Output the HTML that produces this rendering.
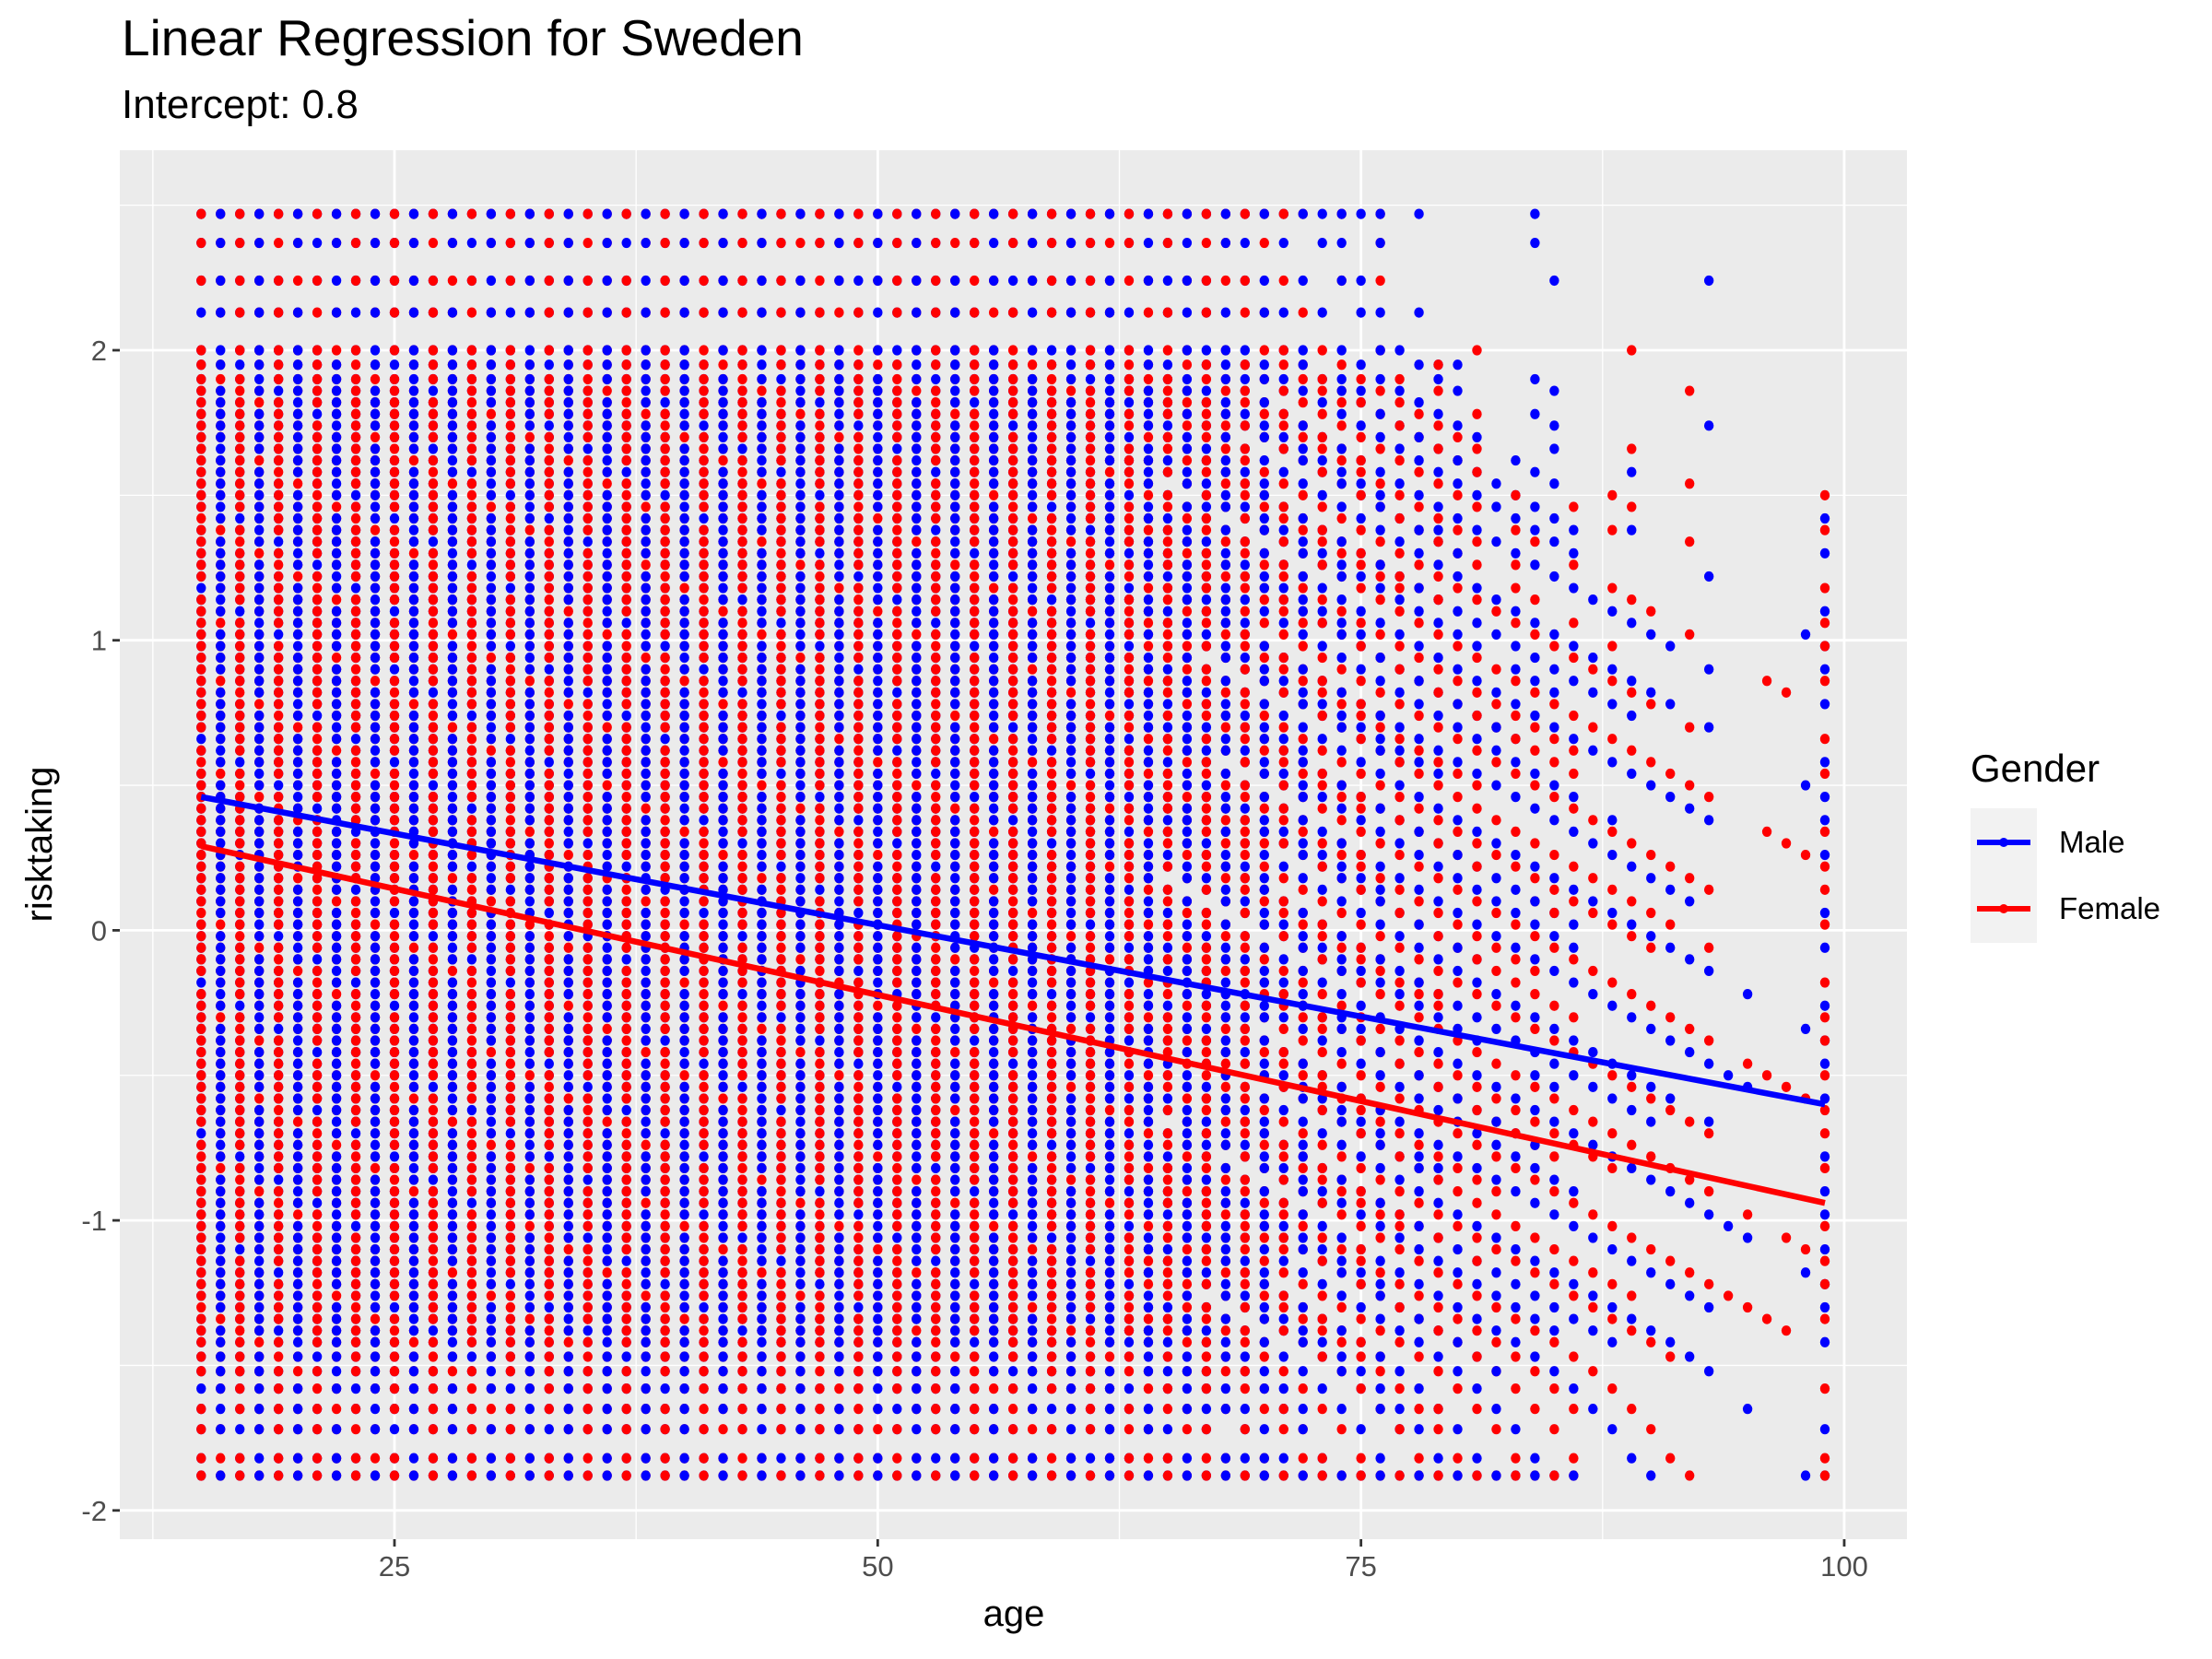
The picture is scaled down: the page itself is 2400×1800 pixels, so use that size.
<!DOCTYPE html>
<html><head><meta charset="utf-8">
<style>
html,body{margin:0;padding:0;background:#fff;}
svg{display:block;font-family:"Liberation Sans",Arial,sans-serif;}
</style></head>
<body>
<svg id="chart" width="2400" height="1800" viewBox="0 0 2400 1800" xmlns="http://www.w3.org/2000/svg">
<text x="132" y="60" font-size="55" fill="#000">Linear Regression for Sweden</text>
<text x="132" y="128" font-size="44" fill="#000">Intercept: 0.8</text>
<rect x="130" y="163" width="1939" height="1507" fill="#ebebeb"/>
<g id="grid"></g>
<g id="points"></g>
<g id="lines"></g>
<g id="axes"></g>
<text x="1100" y="1764" font-size="40" text-anchor="middle" fill="#000">age</text>
<text transform="translate(56,916) rotate(-90)" font-size="40" text-anchor="middle" fill="#000">risktaking</text>
<g>
<text x="2138" y="848" font-size="42" fill="#000">Gender</text>
<rect x="2138" y="877" width="72" height="146" fill="#f2f2f2"/>
<g>
<line x1="2145" y1="914" x2="2203" y2="914" stroke="#0000ff" stroke-width="6"/>
<circle cx="2174" cy="914" r="5" fill="#0000ff"/>
<text x="2234" y="925" font-size="33" fill="#000">Male</text>
</g>
<g>
<line x1="2145" y1="986" x2="2203" y2="986" stroke="#ff0000" stroke-width="6"/>
<circle cx="2174" cy="986" r="5" fill="#ff0000"/>
<text x="2234" y="997" font-size="33" fill="#000">Female</text>
</g>
</g>
</svg>
<script>
const ages = [15,16,17,18,19,20,21,22,23,24,25,26,27,28,29,30,31,32,33,34,35,36,37,38,39,40,41,42,43,44,45,46,47,48,49,50,51,52,53,54,55,56,57,58,59,60,61,62,63,64,65,66,67,68,69,70,71,72,73,74,75,76,77,78,79,80,81,82,83,84,85,86,87,88,89,90,91,92,93,94,95,96,97,98,99];
const maleMax = [2.47,2.47,2.47,2.47,2.47,2.47,2.47,2.47,2.47,2.47,2.47,2.47,2.47,2.47,2.47,2.47,2.47,2.47,2.47,2.47,2.47,2.47,2.47,2.47,2.47,2.47,2.47,2.47,2.47,2.47,2.47,2.47,2.47,2.47,2.47,2.47,2.47,2.47,2.47,2.47,2.47,2.47,2.47,2.47,2.47,2.47,2.47,2.47,2.47,2.47,2.47,2.47,2.47,2.47,2.47,2.47,2.47,2.47,2.47,2.47,2.47,2.47,2.2,2.47,1.95,1.95,1.7,1.6,1.63,2.47,2.3,1.38,1.38,1.3,1.58,1.2,1.2,0.42,2.35,-0.35,0.24,null,null,1.2,1.52];
const femaleMax = [2.47,2.47,2.47,2.47,2.47,2.47,2.47,2.47,2.47,2.47,2.47,2.47,2.47,2.47,2.47,2.47,2.47,2.47,2.47,2.47,2.47,2.47,2.47,2.47,2.47,2.47,2.47,2.47,2.47,2.47,2.47,2.47,2.47,2.47,2.47,2.47,2.47,2.47,2.47,2.47,2.47,2.47,2.47,2.47,2.47,2.47,2.47,2.47,2.47,2.47,2.47,2.47,2.47,2.47,2.47,2.47,2.47,2.47,2.2,2.47,2.05,2.47,1.9,1.85,1.95,1.7,2.35,1.2,1.5,1.4,1.05,1.55,1.0,1.55,2.2,1.1,0.64,2.13,0.77,-0.8,-0.2,1.2,1.05,0.45,1.55];
const density = [0.95,0.9,0.9,0.9,0.9,0.9,0.9,0.9,0.9,0.9,0.9,0.9,0.9,0.9,0.9,0.9,0.9,0.9,0.9,0.9,0.9,0.9,0.9,0.9,0.9,0.9,0.9,0.9,0.9,0.9,0.9,0.9,0.9,0.9,0.9,0.9,0.9,0.9,0.9,0.9,0.9,0.9,0.9,0.9,0.9,0.9,0.9,0.9,0.75,0.75,0.7,0.7,0.7,0.65,0.65,0.6,0.55,0.55,0.5,0.5,0.5,0.45,0.4,0.4,0.4,0.35,0.35,0.3,0.3,0.3,0.3,0.25,0.2,0.2,0.18,0.15,0.15,0.12,0.12,0.08,0.08,0.06,0.06,0.06,0.3];
const yMin = -1.88;
const upperLevels = [2.47,2.37,2.24,2.13,2.0,1.95];
const lowerLevels = [-1.47,-1.52,-1.58,-1.65,-1.72,-1.82,-1.88];
const maleLine = [0.46,-0.60];
const femaleLine = [0.29,-0.94];
const lineAges = [15,99];
const xTicks = [25,50,75,100];
const xMinor = [12.5,37.5,62.5,87.5];
const yTicks = [-2,-1,0,1,2];
const yMinor = [-1.5,-0.5,0.5,1.5,2.5];

const NS = "http://www.w3.org/2000/svg";
const P = {l:130,r:2069,t:163,b:1670};
function xs(v){ return 428 + (v-25)*20.973; }
function ys(v){ return 380 + (2-v)*314.7; }
function mk(tag, attrs, parent){ const e=document.createElementNS(NS,tag); for(const k in attrs) e.setAttribute(k,attrs[k]); parent.appendChild(e); return e; }

const grid=document.getElementById('grid');
xMinor.forEach(v=>{ if(xs(v)>P.l&&xs(v)<P.r){ const e=mk('line',{x1:xs(v),x2:xs(v),y1:P.t,y2:P.b,stroke:'#fff','stroke-width':1.3},grid);

 }});
yMinor.forEach(v=>{ const e=mk('line',{x1:P.l,x2:P.r,y1:ys(v),y2:ys(v),stroke:'#fff','stroke-width':1.3},grid);

 });
xTicks.forEach(v=>{ const e=mk('line',{x1:xs(v),x2:xs(v),y1:P.t,y2:P.b,stroke:'#fff','stroke-width':2.8},grid);

 });
yTicks.forEach(v=>{ const e=mk('line',{x1:P.l,x2:P.r,y1:ys(v),y2:ys(v),stroke:'#fff','stroke-width':2.8},grid);

 });

const levels=[...upperLevels];
for(let v=1.9; v>-1.45; v-=0.04) levels.push(+v.toFixed(3));
levels.push(...lowerLevels);

const pts=document.getElementById('points');
function drawCol(age, i, max, color, seed){
  if(max===null) return;
  const d=density[i];
  levels.forEach((lv,j)=>{
    if(lv>max+0.001 || lv<yMin-0.001) return;
    const h=((j*0.6180339+age*0.3719+seed*0.27)%1);
    const edge = (Math.abs(lv-max)<0.001 || Math.abs(lv-yMin)<0.001);
    if(h<d || (edge && d>0.2)){
      const c=mk('ellipse',{cx:xs(age),cy:ys(lv),rx:5.2,ry:5.6,fill:color},pts);
      
      
    }
  });
}
ages.forEach((a,i)=>{
  if(i%2===0){ drawCol(a,i,maleMax[i],'#0000ff',1); drawCol(a,i,femaleMax[i],'#ff0000',2); }
  else { drawCol(a,i,femaleMax[i],'#ff0000',2); drawCol(a,i,maleMax[i],'#0000ff',1); }
});

const lines=document.getElementById('lines');
const ml=mk('line',{x1:xs(lineAges[0]),y1:ys(maleLine[0]),x2:xs(lineAges[1]),y2:ys(maleLine[1]),stroke:'#0000ff','stroke-width':6.5},lines);


const fl=mk('line',{x1:xs(lineAges[0]),y1:ys(femaleLine[0]),x2:xs(lineAges[1]),y2:ys(femaleLine[1]),stroke:'#ff0000','stroke-width':6.5},lines);



const axes=document.getElementById('axes');
xTicks.forEach(v=>{
  const t=mk('line',{x1:xs(v),x2:xs(v),y1:P.b,y2:P.b+8,stroke:'#333','stroke-width':2.8},axes);
  
  
  const l=mk('text',{x:xs(v),y:P.b+40,'font-size':31,'text-anchor':'middle',fill:'#4d4d4d'},axes);
  l.textContent=v;
  
  
});
yTicks.forEach(v=>{
  const t=mk('line',{x1:P.l-8,x2:P.l,y1:ys(v),y2:ys(v),stroke:'#333','stroke-width':2.8},axes);
  
  
  const l=mk('text',{x:P.l-14,y:ys(v)+11,'font-size':31,'text-anchor':'end',fill:'#4d4d4d'},axes);
  l.textContent=v;
  
  
});
</script>
</body></html>
